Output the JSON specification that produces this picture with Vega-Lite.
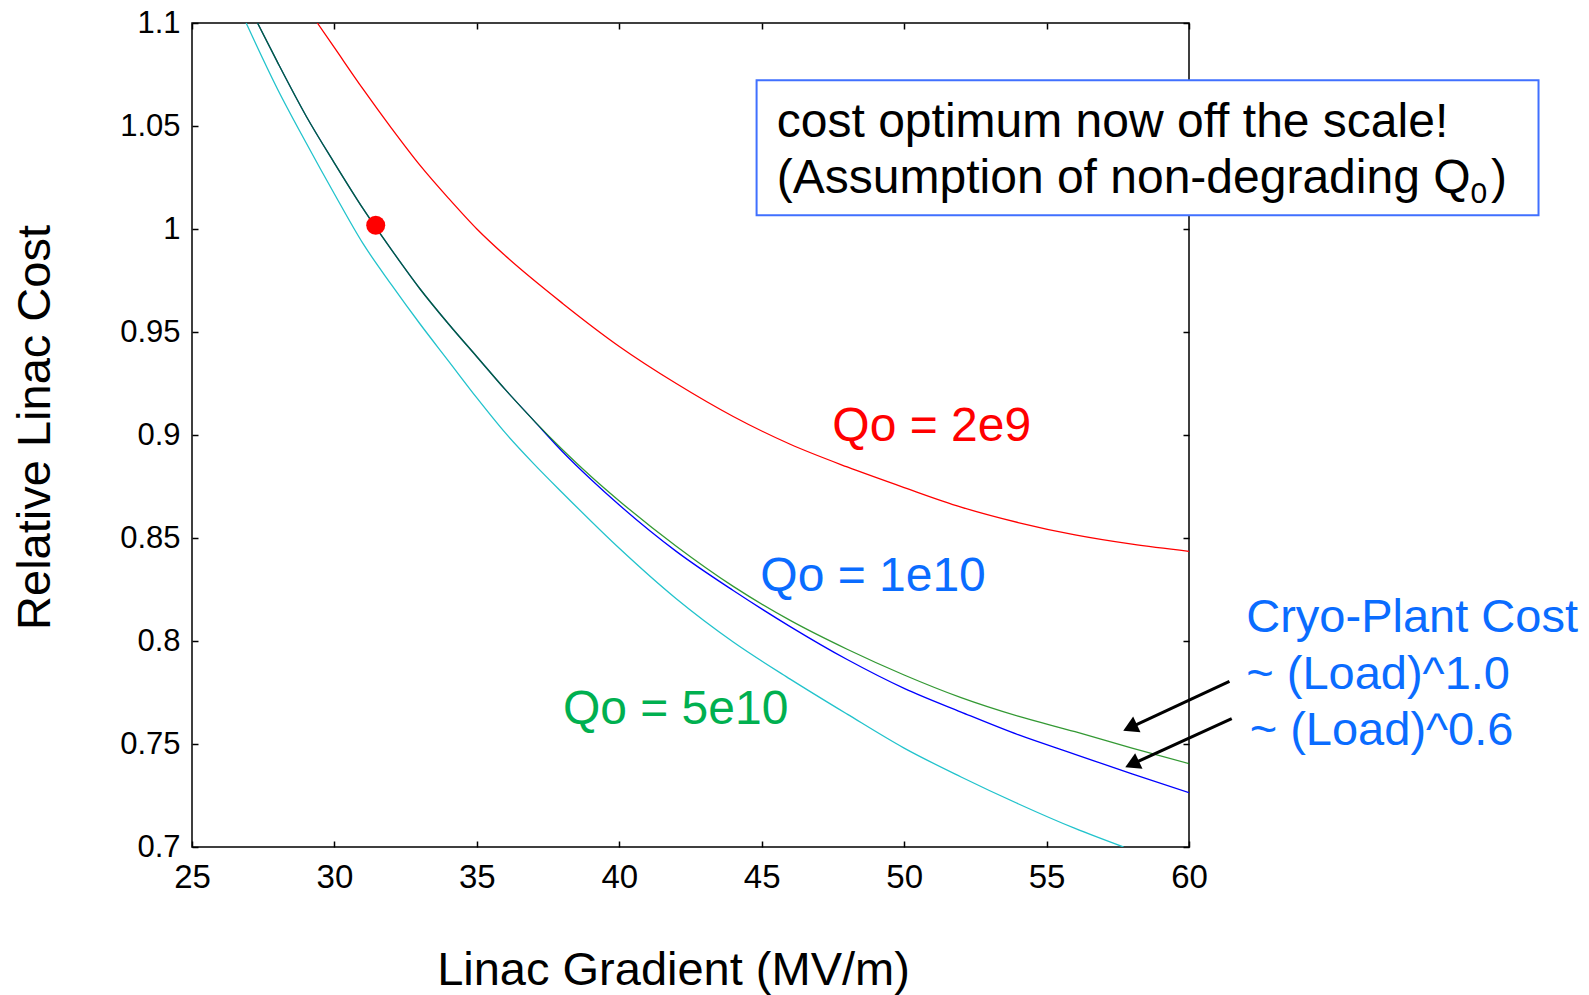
{
  "$schema": "https://vega.github.io/schema/vega-lite/v6.json",
  "width": 997,
  "height": 824,
  "autosize": {"type": "none"},
  "padding": {"left": 192, "top": 23, "right": 400, "bottom": 148},
  "background": "white",
  "config": {
    "view": {"stroke": "black", "strokeWidth": 1.5},
    "font": "Liberation Sans",
    "text": {"font": "Liberation Sans"}
  },
  "datasets": {
    "curves": [
      {"series": "Qo=2e9", "G": 29.4, "cost": 1.1},
      {"series": "Qo=2e9", "G": 30, "cost": 1.088},
      {"series": "Qo=2e9", "G": 31, "cost": 1.068},
      {"series": "Qo=2e9", "G": 32, "cost": 1.049},
      {"series": "Qo=2e9", "G": 33, "cost": 1.031},
      {"series": "Qo=2e9", "G": 34, "cost": 1.015},
      {"series": "Qo=2e9", "G": 35, "cost": 1.0},
      {"series": "Qo=2e9", "G": 36, "cost": 0.987},
      {"series": "Qo=2e9", "G": 38, "cost": 0.964},
      {"series": "Qo=2e9", "G": 40, "cost": 0.943},
      {"series": "Qo=2e9", "G": 42, "cost": 0.925},
      {"series": "Qo=2e9", "G": 44, "cost": 0.909},
      {"series": "Qo=2e9", "G": 46, "cost": 0.8955},
      {"series": "Qo=2e9", "G": 48, "cost": 0.8845},
      {"series": "Qo=2e9", "G": 50, "cost": 0.8745},
      {"series": "Qo=2e9", "G": 52, "cost": 0.865},
      {"series": "Qo=2e9", "G": 54, "cost": 0.8575},
      {"series": "Qo=2e9", "G": 56, "cost": 0.8515},
      {"series": "Qo=2e9", "G": 58, "cost": 0.847},
      {"series": "Qo=2e9", "G": 60, "cost": 0.8435},

      {"series": "Qo=1e10 Load^1.0", "G": 27.3, "cost": 1.1},
      {"series": "Qo=1e10 Load^1.0", "G": 28, "cost": 1.081},
      {"series": "Qo=1e10 Load^1.0", "G": 29, "cost": 1.055},
      {"series": "Qo=1e10 Load^1.0", "G": 30, "cost": 1.032},
      {"series": "Qo=1e10 Load^1.0", "G": 31, "cost": 1.01},
      {"series": "Qo=1e10 Load^1.0", "G": 32, "cost": 0.99},
      {"series": "Qo=1e10 Load^1.0", "G": 33, "cost": 0.971},
      {"series": "Qo=1e10 Load^1.0", "G": 34, "cost": 0.954},
      {"series": "Qo=1e10 Load^1.0", "G": 35, "cost": 0.938},
      {"series": "Qo=1e10 Load^1.0", "G": 36, "cost": 0.922},
      {"series": "Qo=1e10 Load^1.0", "G": 37, "cost": 0.907},
      {"series": "Qo=1e10 Load^1.0", "G": 38, "cost": 0.893},
      {"series": "Qo=1e10 Load^1.0", "G": 39, "cost": 0.88},
      {"series": "Qo=1e10 Load^1.0", "G": 40, "cost": 0.868},
      {"series": "Qo=1e10 Load^1.0", "G": 42, "cost": 0.846},
      {"series": "Qo=1e10 Load^1.0", "G": 44, "cost": 0.8265},
      {"series": "Qo=1e10 Load^1.0", "G": 46, "cost": 0.81},
      {"series": "Qo=1e10 Load^1.0", "G": 48, "cost": 0.796},
      {"series": "Qo=1e10 Load^1.0", "G": 50, "cost": 0.7835},
      {"series": "Qo=1e10 Load^1.0", "G": 52, "cost": 0.7725},
      {"series": "Qo=1e10 Load^1.0", "G": 54, "cost": 0.7635},
      {"series": "Qo=1e10 Load^1.0", "G": 56, "cost": 0.756},
      {"series": "Qo=1e10 Load^1.0", "G": 58, "cost": 0.748},
      {"series": "Qo=1e10 Load^1.0", "G": 60, "cost": 0.7405},

      {"series": "Qo=1e10 Load^0.6", "G": 27.3, "cost": 1.1},
      {"series": "Qo=1e10 Load^0.6", "G": 28, "cost": 1.081},
      {"series": "Qo=1e10 Load^0.6", "G": 29, "cost": 1.055},
      {"series": "Qo=1e10 Load^0.6", "G": 30, "cost": 1.032},
      {"series": "Qo=1e10 Load^0.6", "G": 31, "cost": 1.01},
      {"series": "Qo=1e10 Load^0.6", "G": 32, "cost": 0.99},
      {"series": "Qo=1e10 Load^0.6", "G": 33, "cost": 0.971},
      {"series": "Qo=1e10 Load^0.6", "G": 34, "cost": 0.954},
      {"series": "Qo=1e10 Load^0.6", "G": 35, "cost": 0.938},
      {"series": "Qo=1e10 Load^0.6", "G": 36, "cost": 0.922},
      {"series": "Qo=1e10 Load^0.6", "G": 37, "cost": 0.907},
      {"series": "Qo=1e10 Load^0.6", "G": 38, "cost": 0.892},
      {"series": "Qo=1e10 Load^0.6", "G": 39, "cost": 0.8785},
      {"series": "Qo=1e10 Load^0.6", "G": 40, "cost": 0.866},
      {"series": "Qo=1e10 Load^0.6", "G": 42, "cost": 0.8435},
      {"series": "Qo=1e10 Load^0.6", "G": 44, "cost": 0.8245},
      {"series": "Qo=1e10 Load^0.6", "G": 46, "cost": 0.807},
      {"series": "Qo=1e10 Load^0.6", "G": 48, "cost": 0.791},
      {"series": "Qo=1e10 Load^0.6", "G": 50, "cost": 0.777},
      {"series": "Qo=1e10 Load^0.6", "G": 52, "cost": 0.7655},
      {"series": "Qo=1e10 Load^0.6", "G": 54, "cost": 0.7545},
      {"series": "Qo=1e10 Load^0.6", "G": 56, "cost": 0.745},
      {"series": "Qo=1e10 Load^0.6", "G": 58, "cost": 0.7355},
      {"series": "Qo=1e10 Load^0.6", "G": 60, "cost": 0.7264},

      {"series": "Qo=5e10", "G": 26.9, "cost": 1.1},
      {"series": "Qo=5e10", "G": 28, "cost": 1.068},
      {"series": "Qo=5e10", "G": 29, "cost": 1.042},
      {"series": "Qo=5e10", "G": 30, "cost": 1.017},
      {"series": "Qo=5e10", "G": 31, "cost": 0.993},
      {"series": "Qo=5e10", "G": 32, "cost": 0.973},
      {"series": "Qo=5e10", "G": 33, "cost": 0.954},
      {"series": "Qo=5e10", "G": 34, "cost": 0.936},
      {"series": "Qo=5e10", "G": 35, "cost": 0.918},
      {"series": "Qo=5e10", "G": 36, "cost": 0.901},
      {"series": "Qo=5e10", "G": 37, "cost": 0.886},
      {"series": "Qo=5e10", "G": 38, "cost": 0.872},
      {"series": "Qo=5e10", "G": 40, "cost": 0.845},
      {"series": "Qo=5e10", "G": 42, "cost": 0.8205},
      {"series": "Qo=5e10", "G": 44, "cost": 0.7995},
      {"series": "Qo=5e10", "G": 46, "cost": 0.7815},
      {"series": "Qo=5e10", "G": 48, "cost": 0.7645},
      {"series": "Qo=5e10", "G": 50, "cost": 0.748},
      {"series": "Qo=5e10", "G": 52, "cost": 0.734},
      {"series": "Qo=5e10", "G": 54, "cost": 0.721},
      {"series": "Qo=5e10", "G": 56, "cost": 0.709},
      {"series": "Qo=5e10", "G": 57.7, "cost": 0.7}
    ],
    "optimum": [{"G": 31.45, "cost": 1.0018}],
    "single": [{}]
  },
  "resolve": {"axis": {"x": "independent", "y": "independent"}},
  "layer": [
    {
      "data": {"name": "curves"},
      "transform": [{"filter": "datum.series == 'Qo=2e9'"}],
      "mark": {"type": "line", "color": "#ff0000", "strokeWidth": 1.3, "clip": true, "interpolate": "monotone"},
      "encoding": {
        "x": {"field": "G", "type": "quantitative", "scale": {"domain": [25, 60], "nice": false, "zero": false},
          "axis": {"orient": "bottom", "values": [25, 30, 35, 40, 45, 50, 55, 60], "format": "d", "domain": false, "grid": false,
            "tickSize": -6, "tickColor": "black", "tickWidth": 1.5, "labelFontSize": 33, "labelColor": "black", "labelPadding": 20,
            "labelFlush": false, "labelOverlap": false, "labelFont": "Liberation Sans",
            "title": "Linac Gradient (MV/m)", "titleFont": "Liberation Sans", "titleFontSize": 47, "titleFontWeight": "normal", "titleColor": "black",
            "titleX": 481, "titleY": 137, "titleBaseline": "alphabetic", "titleAlign": "center"}},
        "y": {"field": "cost", "type": "quantitative", "scale": {"domain": [0.7, 1.1], "nice": false, "zero": false},
          "axis": {"orient": "left", "values": [0.7, 0.75, 0.8, 0.85, 0.9, 0.95, 1, 1.05, 1.1], "format": "~g", "domain": false, "grid": false,
            "tickSize": -6, "tickColor": "black", "tickWidth": 1.5, "labelFontSize": 31, "labelColor": "black", "labelPadding": 18,
            "labelFlush": false, "labelOverlap": false, "labelFont": "Liberation Sans",
            "title": "Relative Linac Cost", "titleFont": "Liberation Sans", "titleFontSize": 47, "titleFontWeight": "normal", "titleColor": "black",
            "titleAngle": -90, "titleX": -143, "titleY": 404, "titleBaseline": "alphabetic", "titleAlign": "center"}}
      }
    },
    {
      "data": {"name": "curves"},
      "transform": [{"filter": "datum.series == 'Qo=1e10 Load^0.6'"}],
      "mark": {"type": "line", "color": "#0000ff", "strokeWidth": 1.3, "clip": true, "interpolate": "monotone"},
      "encoding": {
        "x": {"field": "G", "type": "quantitative", "scale": {"domain": [25, 60], "nice": false, "zero": false},
          "axis": {"orient": "top", "values": [25, 30, 35, 40, 45, 50, 55, 60], "labels": false, "domain": false, "grid": false,
            "tickSize": -6, "tickColor": "black", "tickWidth": 1.5, "title": null}},
        "y": {"field": "cost", "type": "quantitative", "scale": {"domain": [0.7, 1.1], "nice": false, "zero": false},
          "axis": {"orient": "right", "values": [0.7, 0.75, 0.8, 0.85, 0.9, 0.95, 1, 1.05, 1.1], "labels": false, "domain": false, "grid": false,
            "tickSize": -6, "tickColor": "black", "tickWidth": 1.5, "title": null}}
      }
    },
    {
      "data": {"name": "curves"},
      "transform": [{"filter": "datum.series == 'Qo=1e10 Load^1.0'"}],
      "mark": {"type": "line", "color": "#008000", "opacity": 0.8, "strokeWidth": 1.3, "clip": true, "interpolate": "monotone"},
      "encoding": {
        "x": {"field": "G", "type": "quantitative", "axis": null},
        "y": {"field": "cost", "type": "quantitative", "axis": null}
      }
    },
    {
      "data": {"name": "curves"},
      "transform": [{"filter": "datum.series == 'Qo=5e10'"}],
      "mark": {"type": "line", "color": "#22c3cc", "strokeWidth": 1.3, "clip": true, "interpolate": "monotone"},
      "encoding": {
        "x": {"field": "G", "type": "quantitative", "axis": null},
        "y": {"field": "cost", "type": "quantitative", "axis": null}
      }
    },
    {
      "data": {"name": "optimum"},
      "mark": {"type": "point", "filled": true, "color": "#ff0000", "opacity": 1, "size": 360},
      "encoding": {
        "x": {"field": "G", "type": "quantitative", "axis": null},
        "y": {"field": "cost", "type": "quantitative", "axis": null}
      }
    },
    {
      "data": {"name": "single"},
      "mark": {"type": "rect", "fill": "white", "stroke": "#4070ff", "strokeWidth": 2},
      "encoding": {
        "x": {"datum": 44.82, "type": "quantitative", "axis": null},
        "x2": {"datum": 72.27},
        "y": {"datum": 1.0722, "type": "quantitative", "axis": null},
        "y2": {"datum": 1.0067}
      }
    },
    {
      "data": {"name": "single"},
      "mark": {"type": "text", "align": "left", "baseline": "alphabetic", "fontSize": 48, "color": "black"},
      "encoding": {
        "x": {"datum": 45.53, "type": "quantitative", "axis": null},
        "y": {"datum": 1.0445, "type": "quantitative", "axis": null},
        "text": {"value": "cost optimum now off the scale!"}
      }
    },
    {
      "data": {"name": "single"},
      "mark": {"type": "text", "align": "left", "baseline": "alphabetic", "fontSize": 48, "color": "black"},
      "encoding": {
        "x": {"datum": 45.53, "type": "quantitative", "axis": null},
        "y": {"datum": 1.0173, "type": "quantitative", "axis": null},
        "text": {"value": "(Assumption of non-degrading Q"}
      }
    },
    {
      "data": {"name": "single"},
      "mark": {"type": "text", "align": "left", "baseline": "alphabetic", "fontSize": 30, "color": "black"},
      "encoding": {
        "x": {"datum": 69.88, "type": "quantitative", "axis": null},
        "y": {"datum": 1.0125, "type": "quantitative", "axis": null},
        "text": {"value": "0"}
      }
    },
    {
      "data": {"name": "single"},
      "mark": {"type": "text", "align": "left", "baseline": "alphabetic", "fontSize": 48, "color": "black"},
      "encoding": {
        "x": {"datum": 70.6, "type": "quantitative", "axis": null},
        "y": {"datum": 1.0173, "type": "quantitative", "axis": null},
        "text": {"value": ")"}
      }
    },
    {
      "data": {"name": "single"},
      "mark": {"type": "text", "align": "left", "baseline": "alphabetic", "fontSize": 48, "color": "#ff0000"},
      "encoding": {
        "x": {"datum": 47.48, "type": "quantitative", "axis": null},
        "y": {"datum": 0.897, "type": "quantitative", "axis": null},
        "text": {"value": "Qo = 2e9"}
      }
    },
    {
      "data": {"name": "single"},
      "mark": {"type": "text", "align": "left", "baseline": "alphabetic", "fontSize": 48, "color": "#0a6cff"},
      "encoding": {
        "x": {"datum": 44.95, "type": "quantitative", "axis": null},
        "y": {"datum": 0.8243, "type": "quantitative", "axis": null},
        "text": {"value": "Qo = 1e10"}
      }
    },
    {
      "data": {"name": "single"},
      "mark": {"type": "text", "align": "left", "baseline": "alphabetic", "fontSize": 48, "color": "#00b050"},
      "encoding": {
        "x": {"datum": 38.02, "type": "quantitative", "axis": null},
        "y": {"datum": 0.7599, "type": "quantitative", "axis": null},
        "text": {"value": "Qo = 5e10"}
      }
    },
    {
      "data": {"name": "single"},
      "mark": {"type": "text", "align": "left", "baseline": "alphabetic", "fontSize": 47, "color": "#0a6cff"},
      "encoding": {
        "x": {"datum": 62.01, "type": "quantitative", "axis": null},
        "y": {"datum": 0.8044, "type": "quantitative", "axis": null},
        "text": {"value": "Cryo-Plant Cost"}
      }
    },
    {
      "data": {"name": "single"},
      "mark": {"type": "text", "align": "left", "baseline": "alphabetic", "fontSize": 47, "color": "#0a6cff"},
      "encoding": {
        "x": {"datum": 62.01, "type": "quantitative", "axis": null},
        "y": {"datum": 0.7769, "type": "quantitative", "axis": null},
        "text": {"value": "~ (Load)^1.0"}
      }
    },
    {
      "data": {"name": "single"},
      "mark": {"type": "text", "align": "left", "baseline": "alphabetic", "fontSize": 47, "color": "#0a6cff"},
      "encoding": {
        "x": {"datum": 62.13, "type": "quantitative", "axis": null},
        "y": {"datum": 0.7494, "type": "quantitative", "axis": null},
        "text": {"value": "~ (Load)^0.6"}
      }
    },
    {
      "data": {"name": "single"},
      "mark": {"type": "rule", "color": "black", "strokeWidth": 3},
      "encoding": {
        "x": {"datum": 61.42, "type": "quantitative", "axis": null},
        "y": {"datum": 0.7804, "type": "quantitative", "axis": null},
        "x2": {"datum": 57.93},
        "y2": {"datum": 0.758}
      }
    },
    {
      "data": {"name": "single"},
      "mark": {"type": "rule", "color": "black", "strokeWidth": 3},
      "encoding": {
        "x": {"datum": 61.5, "type": "quantitative", "axis": null},
        "y": {"datum": 0.7623, "type": "quantitative", "axis": null},
        "x2": {"datum": 58.0},
        "y2": {"datum": 0.7402}
      }
    },
    {
      "data": {"name": "single"},
      "mark": {"type": "point", "shape": "triangle-up", "filled": true, "color": "black", "opacity": 1, "size": 300, "angle": 245},
      "encoding": {
        "x": {"datum": 57.93, "type": "quantitative", "axis": null},
        "y": {"datum": 0.758, "type": "quantitative", "axis": null}
      }
    },
    {
      "data": {"name": "single"},
      "mark": {"type": "point", "shape": "triangle-up", "filled": true, "color": "black", "opacity": 1, "size": 300, "angle": 245},
      "encoding": {
        "x": {"datum": 58.0, "type": "quantitative", "axis": null},
        "y": {"datum": 0.7402, "type": "quantitative", "axis": null}
      }
    }
  ]
}
